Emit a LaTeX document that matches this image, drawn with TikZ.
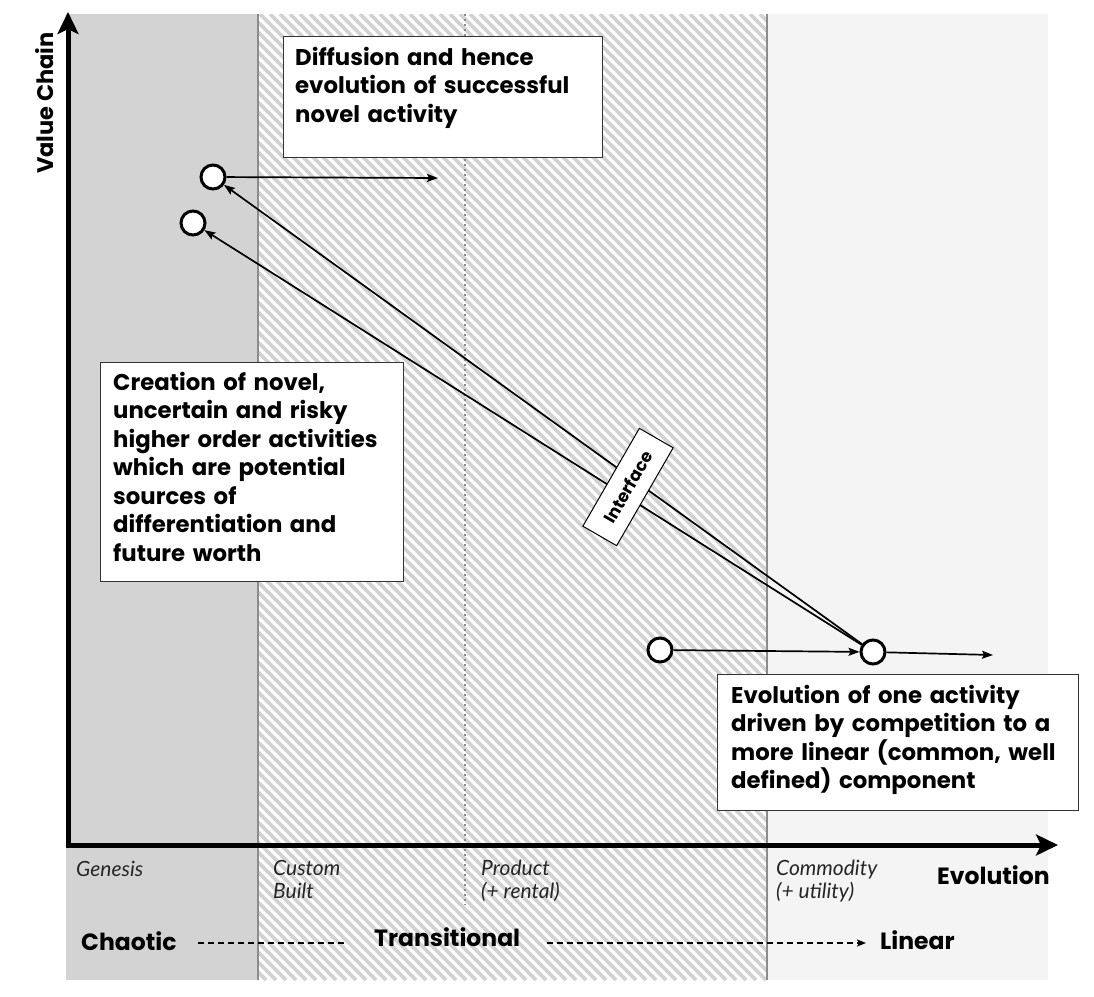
\documentclass[tikz,border=0pt]{standalone}
\usepackage{fontspec}
\setmainfont{Lato}
\newfontfamily\heavysans{Poppins}
\usetikzlibrary{arrows.meta}

\definecolor{genesisgray}{HTML}{D3D3D3}
\definecolor{commoditygray}{HTML}{F4F4F4}
\definecolor{hatchgray}{HTML}{D2D2D2}
\definecolor{dividergray}{HTML}{8C8C8C}

\begin{document}
\begin{tikzpicture}[x=1pt,y=-1pt,
  axis/.style={line width=5pt, -{Stealth[length=22pt,width=21pt,inset=5pt]}},
  conn/.style={line width=1.7pt, -{Stealth[length=11pt,width=8pt,inset=2pt]}},
  activity/.style={circle, draw, line width=3pt, fill=white, minimum size=24pt, inner sep=0pt},
  note/.style={draw=black!80, line width=1.3pt, fill=white, inner sep=0pt, anchor=north west},
  notetext/.style={anchor=base west, inner sep=0pt, align=left,
    font=\heavysans\bfseries\fontsize{22.8}{28.5}\selectfont},
  stage/.style={anchor=base west, inner sep=0pt, align=left,
    font=\itshape\fontsize{21}{22.5}\selectfont, text=black!85},
  heading/.style={anchor=base west, inner sep=0pt, font=\heavysans\bfseries\fontsize{23.5}{26}\selectfont},
  divider/.style={dividergray, line width=2pt},
  flow/.style={line width=2pt, dash pattern=on 6pt off 4pt}
]
\useasboundingbox (0,0) rectangle (1094,996);
\fill[white] (0,0) rectangle (1094,996);

% evolution stages as background bands
\fill[genesisgray] (66,14) rectangle (258,980);
\fill[white] (258,14) rectangle (767,980);
\begin{scope}
  \clip (258,14) rectangle (767,980);
  \foreach \k in {0,...,150} {
    \draw[hatchgray, line width=3.6pt] ({-720+10*\k},14) -- ({-720+10*\k+966},980);
  }
\end{scope}
\fill[commoditygray] (767,14) rectangle (1048,980);
\draw[divider] (258,14) -- (258,980);
\draw[divider] (767,14) -- (767,980);
\draw[dividergray, line width=1.6pt, dash pattern=on 1.6pt off 3.4pt] (465,14) -- (465,905);

% axes
\coordinate (origin) at (66,845);
\coordinate (ytop) at (68,12);
\coordinate (xend) at (1058,845);
\draw[axis] (68,847.5) -- (ytop);
\draw[axis] (origin) -- (xend);
\node[rotate=90, anchor=base, inner sep=0pt, font=\heavysans\bfseries\fontsize{22.5}{26}\selectfont] (vclabel) at (53,103) {Value Chain};
\node[heading] (evolabel) at (937,884) {Evolution};

% stage labels
\node[stage] (genesis) at (76,876) {Genesis};
\node[stage] (custom) at (273,898) {Custom\\Built};
\node[stage] (product) at (481,898) {Product\\(+ rental)};
\node[stage] (commodity) at (776,898) {Commodity\\(+ utility)};

% characterisation along the axis
\node[heading] (chaotic) at (81,950) {Chaotic};
\node[heading] (transitional) at (374,946) {Transitional};
\node[heading] (linear) at (880,949) {Linear};
\coordinate (fl1) at (198,943);
\coordinate (fl2) at (345,943);
\coordinate (fl3) at (547,943);
\coordinate (fl4) at (866,943);
\draw[flow] (fl1) -- (fl2);
\draw[flow, -{Stealth[length=9pt,width=7pt,inset=2pt]}] (fl3) -- (fl4);

% annotation boxes
\node[note, minimum width=319pt, minimum height=121pt] (diffbox) at (283,36) {};
\node[notetext, text width=300pt] (difftext) at (295,65)
  {Diffusion and hence\\evolution of successful\\novel activity};

\node[note, minimum width=303pt, minimum height=219pt] (creabox) at (100,362) {};
\node[notetext, text width=290pt] (creatext) at (113,390)
  {Creation of novel,\\uncertain and risky\\higher order activities\\which are potential\\sources of\\differentiation and\\future worth};

\node[note, minimum width=361pt, minimum height=136pt] (evolbox) at (717,674) {};
\node[notetext, text width=345pt] (evoltext) at (731,703)
  {Evolution of one activity\\driven by competition to a\\more linear (common, well\\defined) component};

% activities
\node[activity] (novelA) at (213,177) {};
\node[activity] (novelB) at (193,223) {};
\node[activity] (prior) at (660,650) {};
\node[activity] (current) at (873,652) {};
\coordinate (diffend) at (438,178);
\coordinate (currend) at (993,655);

\draw[conn] (novelA) -- (diffend);
\draw[conn] (current) -- (novelA);
\draw[conn] (current) -- (novelB);
\draw[conn] (prior) -- (current);
\draw[conn] (current) -- (currend);

% interface tag across the two links
\node[draw, line width=1pt, fill=white, rotate=60, minimum width=113pt, minimum height=39pt,
  inner sep=0pt, font=\heavysans\bfseries\fontsize{17}{20}\selectfont] (iface) at (628,487) {Interface};
\end{tikzpicture}
\end{document}
